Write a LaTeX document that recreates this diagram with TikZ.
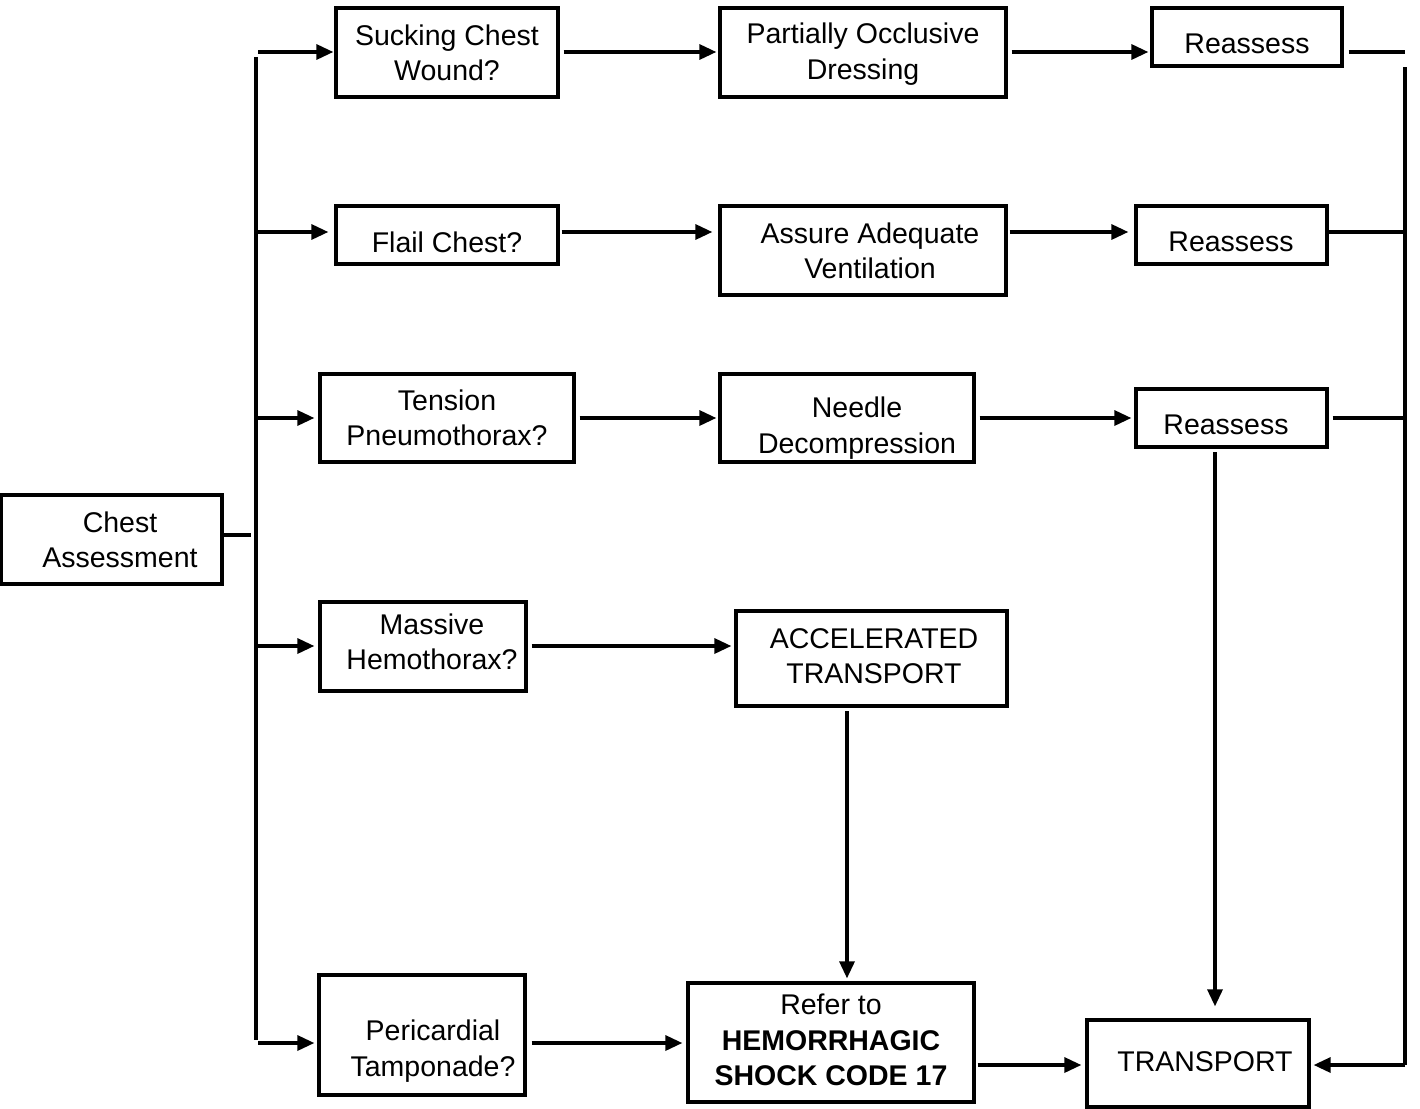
\documentclass[tikz,border=0pt]{standalone}
\usepackage{fontspec}
\setmainfont{Liberation Sans}
\usetikzlibrary{arrows.meta}
\begin{document}
\begin{tikzpicture}[x=1pt,y=-1pt,
  box/.style={draw,line width=3.3pt,inner sep=0pt},
  txt/.style={align=center,inner sep=0pt,font=\fontsize{28.5}{35.5}\selectfont},
  conn/.style={line width=3.3pt},
  arr/.style={conn,-{Triangle[length=17pt,width=15pt]}}]
\useasboundingbox (0,0) rectangle (1420,1108);

% boxes
\node[box,minimum width=221pt,minimum height=89pt] (ca)  at (111.5,539.5) {};
\node[box,minimum width=222pt,minimum height=89pt] (scw) at (447,52.5) {};
\node[box,minimum width=286pt,minimum height=89pt] (pod) at (863,52.5) {};
\node[box,minimum width=190pt,minimum height=58pt] (ra1) at (1247,37) {};
\node[box,minimum width=222pt,minimum height=58pt] (fc)  at (447,235) {};
\node[box,minimum width=286pt,minimum height=89pt] (aav) at (863,250.5) {};
\node[box,minimum width=191pt,minimum height=58pt] (ra2) at (1231.5,235) {};
\node[box,minimum width=254pt,minimum height=88pt] (tp)  at (447,418) {};
\node[box,minimum width=254pt,minimum height=88pt] (nd)  at (847,418) {};
\node[box,minimum width=191pt,minimum height=58pt] (ra3) at (1231.5,418) {};
\node[box,minimum width=206pt,minimum height=89pt] (mh)  at (423,646.5) {};
\node[box,minimum width=271pt,minimum height=95pt] (at)  at (871.5,658.5) {};
\node[box,minimum width=206pt,minimum height=120pt] (pt) at (422,1035) {};
\node[box,minimum width=286pt,minimum height=119pt] (hs) at (831,1042.5) {};
\node[box,minimum width=222pt,minimum height=87pt] (tr)  at (1198,1063.5) {};

% texts
\node[txt] (t-ca)  at (120,540) {Chest\\Assessment};
\node[txt] (t-scw) at (447,53) {Sucking Chest\\Wound?};
\node[txt] (t-pod) at (863,54) {Partially Occlusive\\Dressing};
\node[txt] (t-ra1) at (1247,44) {Reassess};
\node[txt] (t-fc)  at (447,242) {Flail Chest?};
\node[txt] (t-aav) at (870,251) {Assure Adequate\\Ventilation};
\node[txt] (t-ra2) at (1231,242) {Reassess};
\node[txt] (t-tp)  at (447,418) {Tension\\Pneumothorax?};
\node[txt] (t-nd)  at (857,428) {Needle\\Decompression};
\node[txt] (t-ra3) at (1226,425) {Reassess};
\node[txt] (t-mh)  at (432,642) {Massive\\Hemothorax?};
\node[txt] (t-at)  at (874,656) {ACCELERATED\\TRANSPORT};
\node[txt] (t-pt)  at (433,1051) {Pericardial\\Tamponade?};
\node[txt] (t-hs)  at (831,1040) {Refer to\\\textbf{HEMORRHAGIC}\\\textbf{SHOCK CODE 17}};
\node[txt] (t-tr)  at (1205,1062) {TRANSPORT};

% row levels and bus ends
\coordinate (r1) at (0,52);
\coordinate (r2) at (0,232);
\coordinate (r3) at (0,418);
\coordinate (r4) at (0,646);
\coordinate (r5) at (0,1043);
\coordinate (r6) at (0,1065);
\coordinate (lbTop) at (256,57);
\coordinate (lbBot) at (256,1040);
\coordinate (rbTop) at (1405,67);
\coordinate (rbBot) at (1405,1065);

% left bus
\draw[conn] (lbTop) -- (lbBot);
\draw[conn] ([yshift=4.5pt]ca.east) -- ++(27,0);
\draw[arr] (258,0 |- r1) -- ([xshift=-1pt]scw.west |- r1);
\draw[arr] (258,0 |- r2) -- ([xshift=-6pt]fc.west |- r2);
\draw[arr] (258,0 |- r3) -- ([xshift=-4pt]tp.west |- r3);
\draw[arr] (258,0 |- r4) -- ([xshift=-4pt]mh.west |- r4);
\draw[arr] (258,0 |- r5) -- ([xshift=-3pt]pt.west |- r5);

% row 1
\draw[arr] ([xshift=4pt]scw.east |- r1) -- ([xshift=-2pt]pod.west |- r1);
\draw[arr] ([xshift=4pt]pod.east |- r1) -- ([xshift=-2pt]ra1.west |- r1);
\draw[conn] ([xshift=5pt]ra1.east |- r1) -- (rbTop |- r1);

% row 2
\draw[arr] ([xshift=2pt]fc.east |- r2) -- ([xshift=-6pt]aav.west |- r2);
\draw[arr] ([xshift=2pt]aav.east |- r2) -- ([xshift=-6pt]ra2.west |- r2);
\draw[conn] (ra2.east |- r2) -- (rbTop |- r2);

% row 3
\draw[arr] ([xshift=4pt]tp.east |- r3) -- ([xshift=-2pt]nd.west |- r3);
\draw[arr] ([xshift=4pt]nd.east |- r3) -- ([xshift=-3pt]ra3.west |- r3);
\draw[conn] ([xshift=4pt]ra3.east |- r3) -- (rbTop |- r3);

% row 4
\draw[arr] ([xshift=4pt]mh.east |- r4) -- ([xshift=-3pt]at.west |- r4);

% row 5
\draw[arr] ([xshift=5pt]pt.east |- r5) -- ([xshift=-4pt]hs.west |- r5);
\draw[arr] ([xshift=2pt]hs.east |- r6) -- ([xshift=-4pt]tr.west |- r6);

% vertical drops
\draw[arr] (847,0 |- 0,711) -- ([yshift=3pt]hs.north -| 847,0);
\draw[arr] (1215,0 |- 0,452) -- ([yshift=12pt]tr.north -| 1215,0);

% right bus
\draw[conn] (rbTop) -- (rbBot);
\draw[arr] (rbBot) -- ([xshift=3pt]tr.east |- r6);
\end{tikzpicture}
\end{document}
